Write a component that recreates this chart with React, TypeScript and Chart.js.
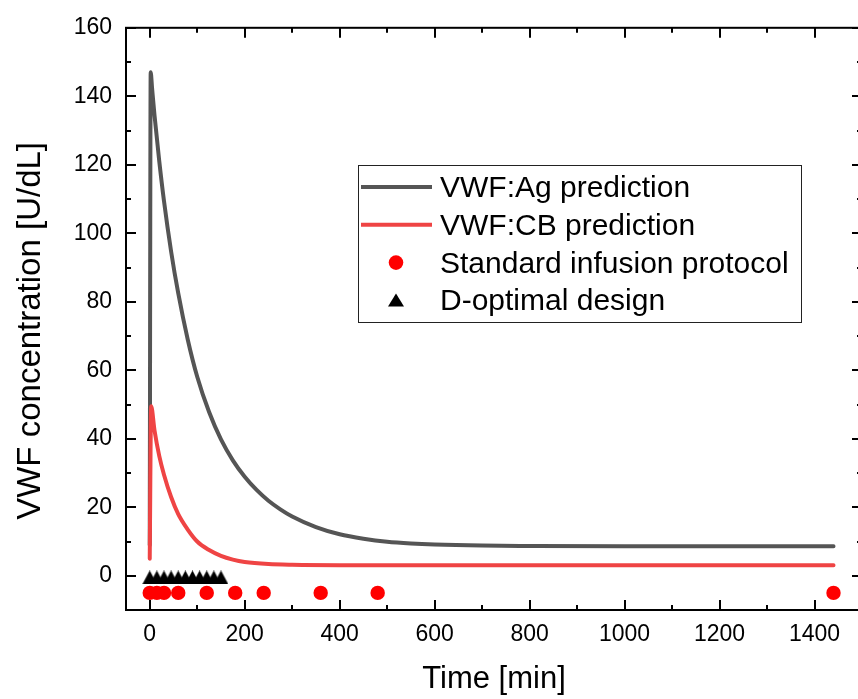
import React, { useEffect, useRef } from 'react';
import { Chart, registerables } from 'chart.js';

Chart.register(...registerables);

// ---- data ----
const agTimes = [0, 2, 5, 10, 20, 30, 45, 60, 80, 100, 125, 150, 175, 200, 225, 250, 275, 300, 350, 400, 450, 500, 550, 600, 700, 800, 1000, 1200, 1440];
const agValues = [9, 147, 142.2, 134.5, 121.1, 109.4, 94.7, 82.5, 69, 58.1, 47.8, 39.8, 33.7, 28.9, 25.05, 21.9, 19.4, 17.3, 14.2, 12.1, 10.8, 9.9, 9.4, 9.1, 8.8, 8.7, 8.6, 8.6, 8.6];

const cbTimes = [0, 3, 10, 20, 30, 45, 60, 80, 100, 125, 150, 175, 200, 250, 300, 400, 600, 1000, 1440];
const cbValues = [5, 49.5, 42.5, 35, 29.5, 23, 18, 13.5, 10, 7.5, 5.8, 4.7, 4.0, 3.4, 3.2, 3.1, 3.1, 3.1, 3.1];

const standardTimes = [0, 15, 30, 60, 120, 180, 240, 360, 480, 1440];
const standardLevel = -5;

const dOptimalTimes = [0, 15, 30, 45, 60, 75, 90, 105, 120, 135, 150];
const dOptimalLevel = -0.5;

const xMajorTicks = [0, 200, 400, 600, 800, 1000, 1200, 1400];
const xMinorTicks = [100, 300, 500, 700, 900, 1100, 1300];
const yMajorTicks = [0, 20, 40, 60, 80, 100, 120, 140, 160];
const yMinorTicks = [10, 30, 50, 70, 90, 110, 130, 150];

const seriesLabels = ['VWF:Ag prediction', 'VWF:CB prediction', 'Standard infusion protocol', 'D-optimal design'];
const xTitle = 'Time [min]';
const yTitle = 'VWF concentration [U/dL]';

const FONT = '"Liberation Sans", Arial, Helvetica, sans-serif';

function makeTriangle(w: number, h: number, color: string) {
  const c = document.createElement('canvas');
  c.width = w;
  c.height = h;
  const g = c.getContext('2d')!;
  g.fillStyle = color;
  g.beginPath();
  g.moveTo(w / 2, 0);
  g.lineTo(w, h);
  g.lineTo(0, h);
  g.closePath();
  g.fill();
  return c;
}

const framePlugin = {
  id: 'frameTicks',
  afterDatasetsDraw(chart: any) {
    const { ctx, chartArea: a, scales } = chart;
    const x = scales.x;
    const y = scales.y;
    ctx.save();
    ctx.strokeStyle = '#000';
    ctx.lineWidth = 2;
    ctx.strokeRect(a.left, a.top, a.right - a.left, a.bottom - a.top);
    ctx.beginPath();
    const vx = (v: number, len: number) => {
      const px = Math.round(x.getPixelForValue(v));
      ctx.moveTo(px, a.bottom);
      ctx.lineTo(px, a.bottom - len);
      ctx.moveTo(px, a.top);
      ctx.lineTo(px, a.top + len);
    };
    const vy = (v: number, len: number) => {
      const py = Math.round(y.getPixelForValue(v));
      ctx.moveTo(a.left, py);
      ctx.lineTo(a.left + len, py);
      ctx.moveTo(a.right, py);
      ctx.lineTo(a.right - len, py);
    };
    xMajorTicks.forEach((v) => vx(v, 10));
    xMinorTicks.forEach((v) => vx(v, 5));
    yMajorTicks.forEach((v) => vy(v, 10));
    yMinorTicks.forEach((v) => vy(v, 5));
    ctx.stroke();

    // y axis title
    ctx.save();
    ctx.translate(31, (a.top + a.bottom) / 2 + 12);
    ctx.rotate(-Math.PI / 2);
    ctx.fillStyle = '#000';
    ctx.font = `33px ${FONT}`;
    ctx.textAlign = 'center';
    ctx.textBaseline = 'middle';
    ctx.fillText(yTitle, 0, 0);
    ctx.restore();
    ctx.restore();
  },
};

const legendPlugin = {
  id: 'boxLegend',
  afterDraw(chart: any) {
    const ctx = chart.ctx;
    const ds = chart.data.datasets;
    const left = 358.5;
    const top = 165.5;
    const right = 801.5;
    const bottom = 322.5;
    ctx.save();
    ctx.fillStyle = '#fff';
    ctx.fillRect(left, top, right - left, bottom - top);
    ctx.strokeStyle = '#222';
    ctx.lineWidth = 1;
    ctx.strokeRect(left, top, right - left, bottom - top);
    const rowH = 37.8;
    const firstBase = 197;
    ds.forEach((d: any, i: number) => {
      const base = firstBase + i * rowH;
      const cy = base - 10;
      const cx = 396;
      if (d.type === 'line') {
        ctx.strokeStyle = d.borderColor;
        ctx.lineWidth = d.borderWidth;
        ctx.beginPath();
        ctx.moveTo(361, cy);
        ctx.lineTo(432, cy);
        ctx.stroke();
      } else if (d.pointStyle === 'circle') {
        ctx.fillStyle = d.backgroundColor;
        ctx.beginPath();
        ctx.arc(cx, cy, 7.3, 0, Math.PI * 2);
        ctx.fill();
      } else {
        ctx.fillStyle = d.backgroundColor;
        ctx.beginPath();
        ctx.moveTo(cx, cy - 7);
        ctx.lineTo(cx + 8, cy + 6);
        ctx.lineTo(cx - 8, cy + 6);
        ctx.closePath();
        ctx.fill();
      }
      ctx.fillStyle = '#000';
      ctx.font = `30px ${FONT}`;
      ctx.textAlign = 'left';
      ctx.textBaseline = 'alphabetic';
      ctx.fillText(d.label, 440, base);
    });
    ctx.restore();
  },
};

export default function App() {
  const ref = useRef<HTMLCanvasElement>(null);
  useEffect(() => {
    const canvas = ref.current!;
    const tri = makeTriangle(15, 14, '#000000');
    const chart = new Chart(canvas, {
      type: 'line',
      data: {
        datasets: [
          {
            type: 'line',
            label: seriesLabels[0],
            data: agTimes.map((t, i) => ({ x: t, y: agValues[i] })),
            borderColor: '#555555',
            borderWidth: 4,
            borderJoinStyle: 'round',
            borderCapStyle: 'round',
            pointRadius: 0,
            fill: false,
            cubicInterpolationMode: 'monotone',
            order: 3,
          },
          {
            type: 'line',
            label: seriesLabels[1],
            data: cbTimes.map((t, i) => ({ x: t, y: cbValues[i] })),
            borderColor: '#ef4444',
            borderWidth: 4,
            borderJoinStyle: 'round',
            borderCapStyle: 'round',
            pointRadius: 0,
            fill: false,
            cubicInterpolationMode: 'monotone',
            order: 2,
          },
          {
            type: 'scatter',
            label: seriesLabels[2],
            data: standardTimes.map((t) => ({ x: t, y: standardLevel })),
            pointStyle: 'circle',
            pointRadius: 7.2,
            backgroundColor: '#ff0000',
            borderWidth: 0,
            order: 1,
          },
          {
            type: 'scatter',
            label: seriesLabels[3],
            data: dOptimalTimes.map((t) => ({ x: t, y: dOptimalLevel })),
            pointStyle: tri,
            pointRadius: 8,
            backgroundColor: '#000000',
            borderWidth: 0,
            order: 0,
          },
        ] as any,
      },
      options: {
        responsive: false,
        animation: false,
        layout: { padding: { left: 0, top: 19, right: 38, bottom: 0 } },
        plugins: { legend: { display: false }, tooltip: { enabled: false } },
        scales: {
          x: {
            type: 'linear',
            position: 'bottom',
            min: -50,
            max: 1500,
            afterBuildTicks: (s: any) => {
              s.ticks = xMajorTicks.map((v) => ({ value: v }));
            },
            afterFit: (s: any) => {
              s.height = 89;
            },
            grid: { display: false, drawTicks: false },
            border: { display: false },
            ticks: {
              font: { family: FONT, size: 23 },
              color: '#000',
              padding: 11,
              maxRotation: 0,
              autoSkip: false,
              callback: (v: any) => String(v),
            },
            title: { display: true, text: xTitle, font: { family: FONT, size: 31 }, color: '#000', padding: { top: 0, bottom: 1 } },
          },
          y: {
            type: 'linear',
            position: 'left',
            min: -10,
            max: 160,
            afterBuildTicks: (s: any) => {
              s.ticks = yMajorTicks.map((v) => ({ value: v }));
            },
            afterFit: (s: any) => {
              s.width = 126;
            },
            grid: { display: false, drawTicks: false },
            border: { display: false },
            ticks: { font: { family: FONT, size: 23 }, color: '#000', padding: 14, autoSkip: false, callback: (v: any) => String(v) },
            title: { display: false },
          },
        },
      } as any,
      plugins: [framePlugin, legendPlugin],
    });
    return () => chart.destroy();
  }, []);

  return (
    <div style={{ position: 'absolute', left: 0, top: 0, width: 858, height: 699, overflow: 'hidden', background: '#fff' }}>
      <canvas ref={ref} width={900} height={699} style={{ display: 'block', width: 900, height: 699 }} />
    </div>
  );
}
